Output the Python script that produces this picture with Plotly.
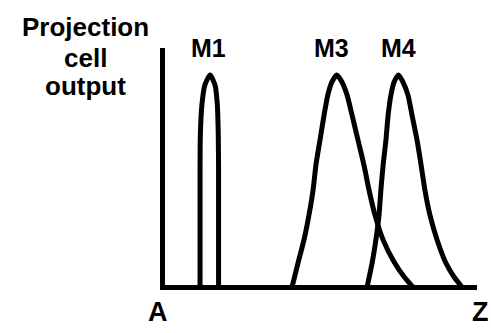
import plotly.graph_objects as go

# Curves (x: position along A..Z, 0-100; y: output, peak = 100)
m1_x = [11.8, 11.8, 11.9, 12.4, 13.3, 15.0, 16.6, 17.3, 17.6, 17.7, 17.7]
m1_y = [0, 55, 72, 86, 95, 100, 95, 86, 72, 55, 0]

m3_x = [41.1, 43.0, 44.9, 46.5, 47.8, 48.7, 50.0, 51.3, 52.5, 53.8, 55.3,
        57.0, 58.6, 60.2, 62.1, 64.0, 65.6, 67.5, 70.1, 73.6, 77.1, 79.6]
m3_y = [0, 11.3, 22.2, 34.0, 45.8, 57.5, 69.3, 81.1, 90.6, 96.7, 100,
        96.7, 90.6, 81.1, 69.3, 57.5, 45.8, 34.0, 22.2, 11.8, 4.2, 0]

m4_x = [65.0, 66.6, 67.8, 68.8, 69.4, 70.1, 71.0, 71.7, 72.6, 73.6, 75.0,
        76.4, 78.0, 79.3, 80.9, 82.2, 83.4, 85.0, 87.3, 90.1, 92.7, 95.2]
m4_y = [0, 11.3, 22.2, 34.0, 45.8, 57.5, 69.3, 81.1, 90.6, 96.7, 100,
        96.7, 90.6, 81.1, 69.3, 57.5, 45.8, 34.0, 22.2, 11.3, 4.7, 0]

curve_names = ['M1', 'M3', 'M4']
curves = [(m1_x, m1_y), (m3_x, m3_y), (m4_x, m4_y)]

ylabel_lines = ['Projection', 'cell', 'output']
x_end_labels = ['A', 'Z']

FONT = 'Arial, Liberation Sans, Helvetica, sans-serif'

fig = go.Figure()
for name, (xs, ys) in zip(curve_names, curves):
    fig.add_trace(go.Scatter(x=xs, y=ys, mode='lines', name=name,
                             line=dict(color='black', width=5, shape='spline', smoothing=0.6)))

def label(txt, x, y, size):
    fig.add_annotation(x=x, y=y, xref='paper', yref='paper', text=txt, showarrow=False,
                       xanchor='center', yanchor='middle',
                       font=dict(family=FONT, size=size, color='black', weight='bold'))

# labels above each peak
for name, xp in zip(curve_names, [0.141, 0.535, 0.747]):
    label(name, xp, 1.002, 25)

# y label, one line per annotation
for txt, yp in zip(ylabel_lines, [1.089, 0.958, 0.840]):
    label(txt, -0.256, yp, 26)

for txt, xp in zip(x_end_labels, [-0.022, 1.01]):
    label(txt, xp, -0.112, 27)

# plot area: x 165..477 px, y 48..285 px of the 491x333 page
fig.update_layout(
    width=491, height=333,
    margin=dict(l=165, r=14, t=48, b=48),
    paper_bgcolor='white', plot_bgcolor='white',
    showlegend=False,
    xaxis=dict(range=[0.64, 100], showline=True, linewidth=5, linecolor='black',
               showgrid=False, zeroline=False, showticklabels=False, ticks=''),
    yaxis=dict(range=[0.94, 112.7], showline=True, linewidth=5, linecolor='black',
               showgrid=False, zeroline=False, showticklabels=False, ticks=''),
)

# drop the default 8px body margin so the page is exactly the figure
fig.write_html("out.html", config={'displayModeBar': False},
               post_script="document.body.style.margin='0';document.body.style.overflow='hidden';")
